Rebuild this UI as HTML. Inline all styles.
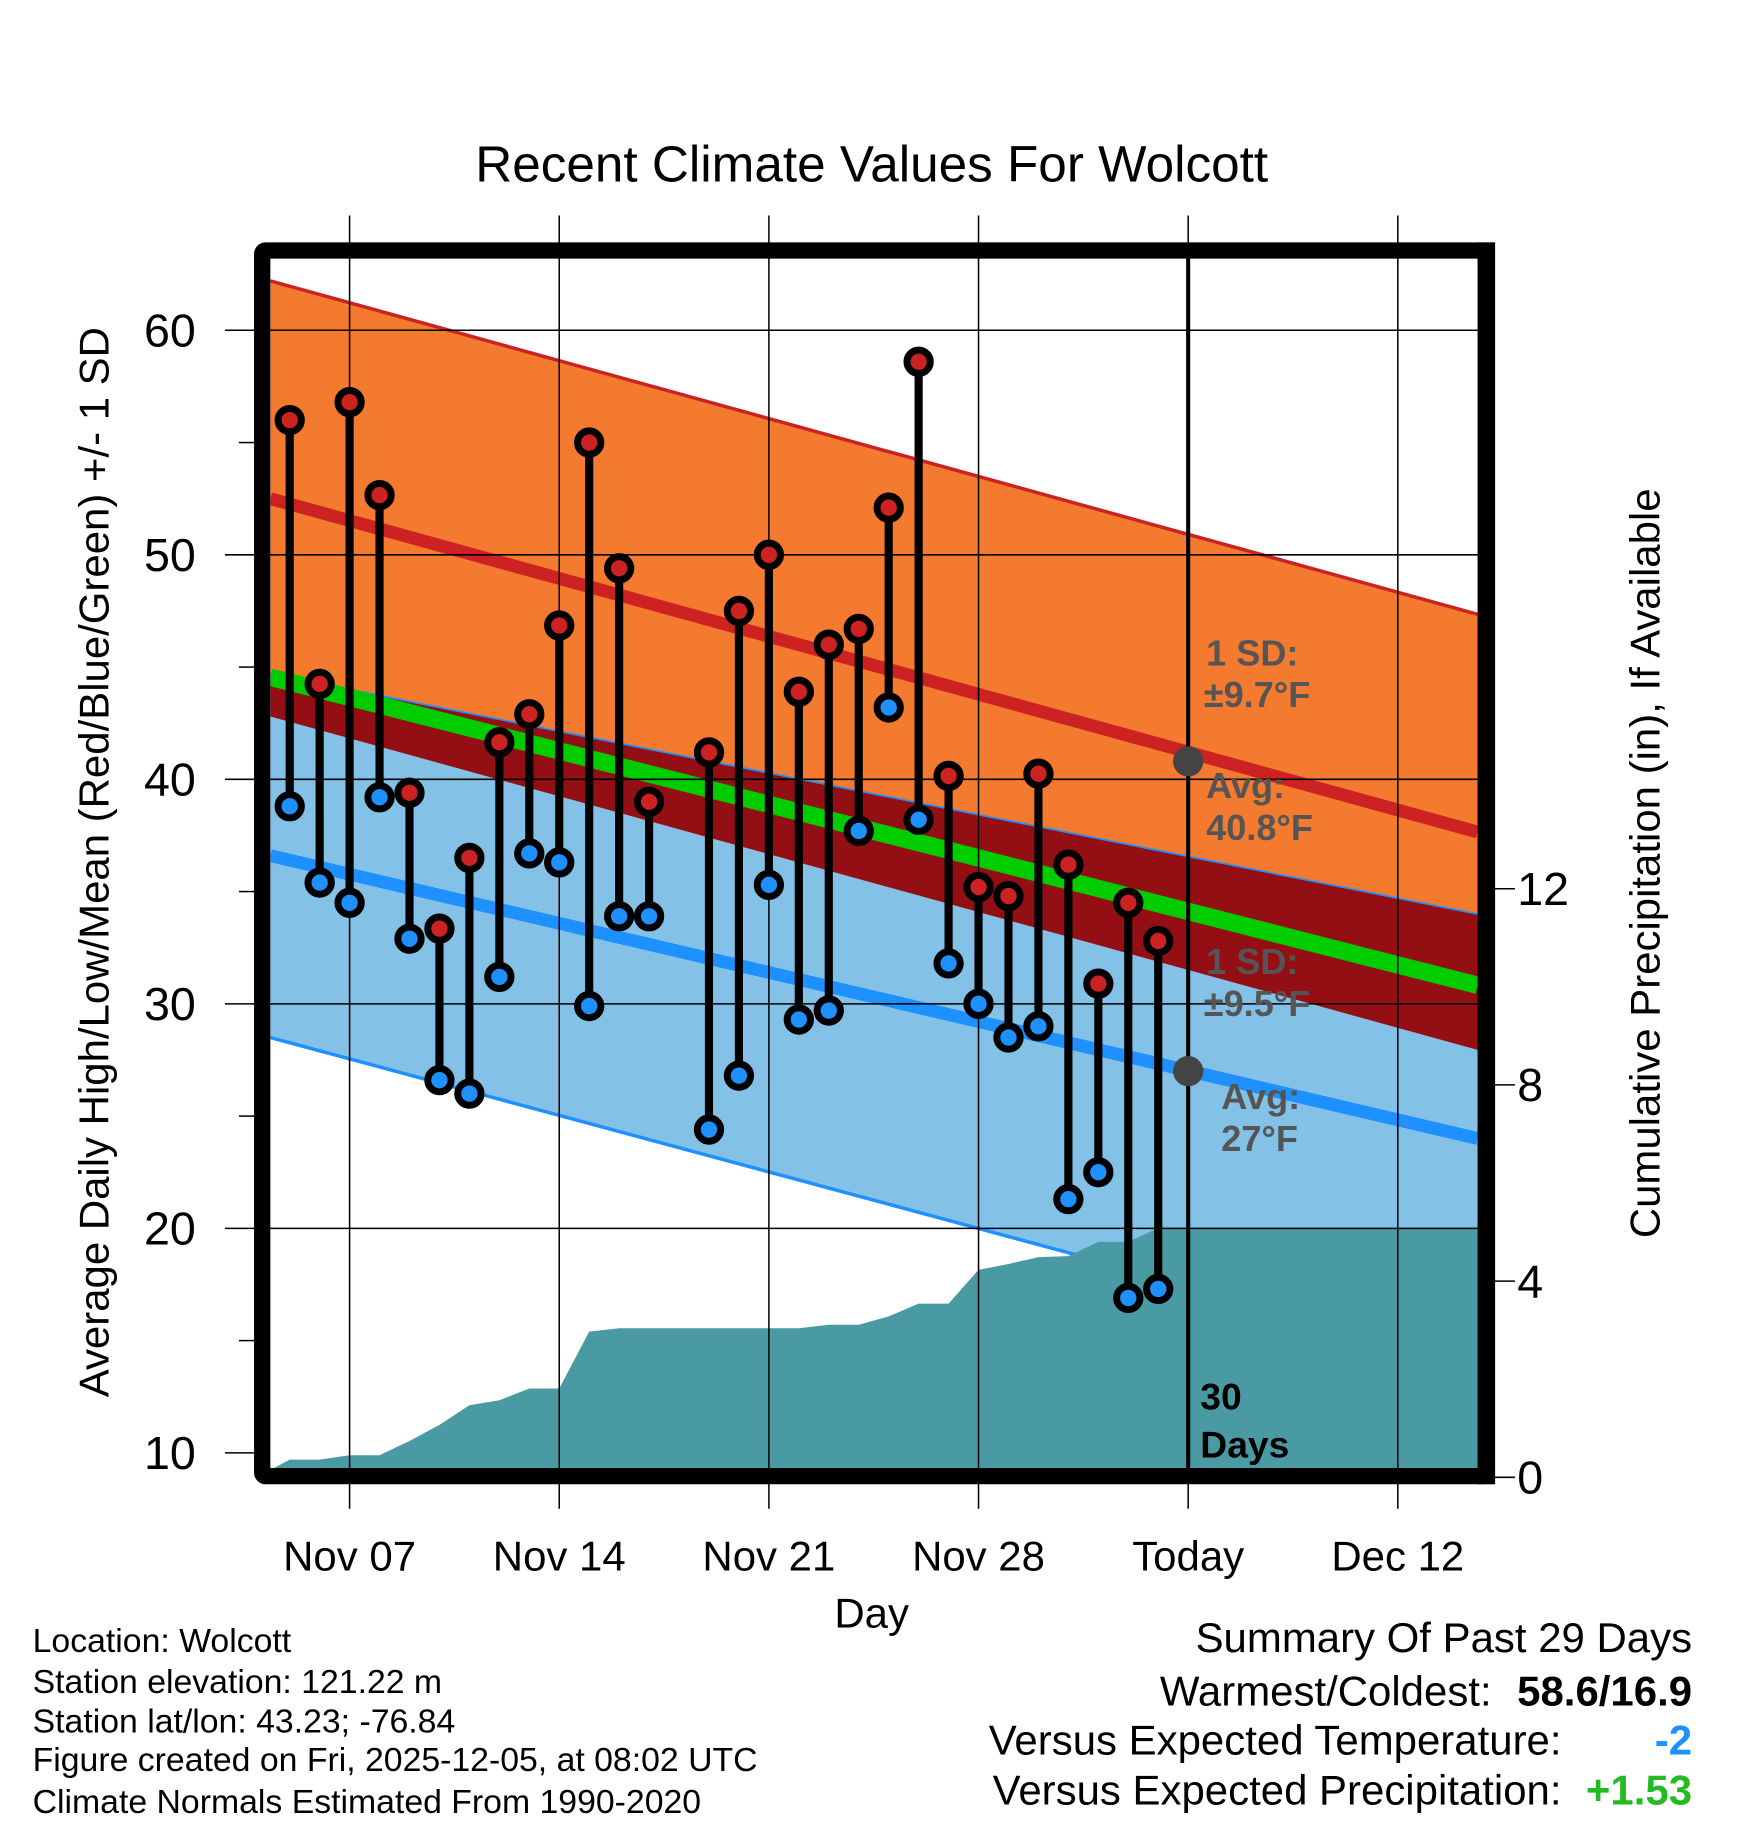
<!DOCTYPE html>
<html><head><meta charset="utf-8"><style>
html,body{margin:0;padding:0;background:#fff;}
svg{display:block;font-family:"Liberation Sans",Arial,sans-serif;}
</style></head><body>
<svg id="chart" width="1748" height="1828" viewBox="0 0 1500 1569" preserveAspectRatio="none" xmlns="http://www.w3.org/2000/svg">
<rect width="1500" height="1569" fill="#fff"/>
<text x="748" y="156" font-size="44" text-anchor="middle">Recent Climate Values For Wolcott</text>
<g id="plot"></g>
</svg>
<script>
const dayLabels = ["Nov 05","Nov 06","Nov 07","Nov 08","Nov 09","Nov 10","Nov 11","Nov 12","Nov 13","Nov 14","Nov 15","Nov 16","Nov 17","Nov 19","Nov 20","Nov 21","Nov 22","Nov 23","Nov 24","Nov 25","Nov 26","Nov 27","Nov 28","Nov 29","Nov 30","Dec 01","Dec 02","Dec 03","Dec 04"];
const dayOffsets = [0,1,2,3,4,5,6,7,8,9,10,11,12,14,15,16,17,18,19,20,21,22,23,24,25,26,27,28,29];
const highs = [56.0,44.25,56.8,52.66,39.4,33.35,36.5,41.65,42.9,46.85,55.0,49.4,39.0,41.2,47.5,50.0,43.9,46.0,46.7,52.1,58.6,40.15,35.2,34.8,40.25,36.2,30.9,34.5,32.8];
const lows  = [38.8,35.4,34.5,39.2,32.9,26.6,26.0,31.2,36.7,36.3,29.9,33.9,33.9,24.4,26.8,35.3,29.3,29.7,37.7,43.2,38.2,31.8,30.0,28.5,29.0,21.3,22.5,16.9,17.3];
const precipOffsets = [0,1,2,3,4,5,6,7,8,9,10,11,12,13,14,15,16,17,18,19,20,21,22,23,24,25,26,27,28,29];
const precipValues = [0.36,0.36,0.45,0.45,0.74,1.07,1.47,1.57,1.81,1.81,2.97,3.04,3.04,3.04,3.04,3.04,3.04,3.04,3.11,3.11,3.28,3.54,3.54,4.23,4.35,4.49,4.51,4.8,4.8,5.08];
const normHighStart = 52.5, normHighEnd = 37.65;
const normLowStart = 36.6, normLowEnd = 24.0;
const todayHighAvg = 40.8, todayLowAvg = 27.0;
const sdHigh = 9.7, sdLow = 8.1, sdLowEnd = 10.0;
const xTickLabels = ["Nov 07","Nov 14","Nov 21","Nov 28","Today","Dec 12"];
const xTickOffsets = [2,9,16,23,30,37];
const yTicks = [10,20,30,40,50,60];
const y2Ticks = [0,4,8,12];

const NS="http://www.w3.org/2000/svg";
const g=document.getElementById('plot');
const L=232,R=1268,T=222,B=1260;
const xDay=d=>248.6+d*25.7;
const y=v=>1247-(v-10)*19.27;
const y2=v=>1268-v*42.1;
const dL=(L-248.6)/25.7, dR=(R-248.6)/25.7;
function el(t,a,p){const e=document.createElementNS(NS,t);for(const k in a)e.setAttribute(k,a[k]);(p||g).appendChild(e);return e;}
function lerp(a,b,d){return a+(b-a)*(d-dL)/(dR-dL);}
const hm=d=>lerp(normHighStart,normHighEnd,d), lm=d=>lerp(normLowStart,normLowEnd,d);
const ls=d=>lerp(sdLow,sdLowEnd,d);

const defs=el('defs',{});const cp=el('clipPath',{id:'pc'},defs);el('rect',{x:L,y:T,width:R-L,height:B-T},cp);
const pg=el('g',{'clip-path':'url(#pc)'});
function band(f1,f2,fill,name){const pts=[];for(const d of [dL,dR])pts.push(xDay(d)+','+y(f1(d)));for(const d of [dR,dL])pts.push(xDay(d)+','+y(f2(d)));const p=el('polygon',{points:pts.join(' '),fill:fill},pg);}
band(d=>hm(d)+sdHigh,d=>hm(d)-sdHigh,'#f47a2f','high-sd-band');
band(d=>lm(d)+ls(d),d=>lm(d)-ls(d),'#84c1e6','low-sd-band');
band(d=>lm(d)+ls(d),d=>hm(d)-sdHigh,'#930f14','overlap-band');
function line(f,c,w,name){const l=el('line',{x1:L,y1:y(f(dL)),x2:R,y2:y(f(dR)),stroke:c,'stroke-width':w},pg);}
line(d=>hm(d)+sdHigh,'#cc2222',3,'high-upper-sd-line');
line(d=>lm(d)+ls(d),'#1e90ff',1.5,'low-upper-sd-line');
line(d=>lm(d)-ls(d),'#1e90ff',3,'low-lower-sd-line');
line(hm,'#cc2222',11,'normal-high-line');
line(lm,'#1e90ff',11,'normal-low-line');
line(d=>(hm(d)+lm(d))/2,'#00cc00',15,'normal-mean-line');
{const pts=[L+','+B, L+','+y2(0.15)];precipOffsets.forEach((d,i)=>pts.push(xDay(d)+','+y2(precipValues[i])));pts.push(R+','+y2(precipValues[precipValues.length-1]));pts.push(R+','+B);
const p=el('polygon',{points:pts.join(' '),fill:'#4a9aa3'},pg);}
yTicks.forEach(v=>{if(v>10){const l=el('line',{x1:193,x2:1282,y1:y(v),y2:y(v),stroke:'#000','stroke-width':1.3});}else{el('line',{x1:193,x2:218,y1:y(v),y2:y(v),stroke:'#000','stroke-width':1.3});}
const t=el('text',{x:168,y:y(v)+14,'font-size':40,'text-anchor':'end'});t.textContent=v;});
[15,25,35,45,55].forEach(v=>el('line',{x1:205,x2:218,y1:y(v),y2:y(v),stroke:'#000','stroke-width':1.3}));
xTickOffsets.forEach((d,i)=>{const l=el('line',{x1:xDay(d),x2:xDay(d),y1:185,y2:1295,stroke:'#000','stroke-width':1.3});
const t=el('text',{x:xDay(d),y:1348,'font-size':36,'text-anchor':'middle'});t.textContent=xTickLabels[i];});
y2Ticks.forEach(v=>{el('line',{x1:1282,x2:1300,y1:y2(v),y2:y2(v),stroke:'#000','stroke-width':1.3});const t=el('text',{x:1302,y:y2(v)+14,'font-size':40});t.textContent=v;});
{const l=el('line',{x1:xDay(30),x2:xDay(30),y1:T,y2:B,stroke:'#000','stroke-width':3.5});}
el('circle',{cx:xDay(30),cy:y(todayHighAvg),r:13,fill:'#444'});
el('circle',{cx:xDay(30),cy:y(todayLowAvg),r:13,fill:'#444'});
dayOffsets.forEach((d,i)=>{const x=xDay(d);const s=el('line',{x1:x,x2:x,y1:y(highs[i]),y2:y(lows[i]),stroke:'#000','stroke-width':7});
const h=el('circle',{cx:x,cy:y(highs[i]),r:10,fill:'#cc2222',stroke:'#000','stroke-width':6});
const lo=el('circle',{cx:x,cy:y(lows[i]),r:10,fill:'#1e90ff',stroke:'#000','stroke-width':6});});
function txt(x,yy,s,size,fill,w,anchor,name){const t=el('text',{x:x,y:yy,'font-size':size,fill:fill,'font-weight':w||'normal','text-anchor':anchor||'start'});t.textContent=s;return t;}
txt(1035,571,'1 SD:',31,'#555','bold','start','high-sd-label');
txt(1033,607,'±9.7°F',31,'#555','bold','start','high-sd-value');
txt(1035,685,'Avg:',31,'#555','bold','start','high-avg-label');
txt(1035,721,'40.8°F',31,'#555','bold','start','high-avg-value');
txt(1035,836,'1 SD:',31,'#555','bold','start','low-sd-label');
txt(1033,872,'±9.5°F',31,'#555','bold','start','low-sd-value');
txt(1048,952,'Avg:',31,'#555','bold','start','low-avg-label');
txt(1048,988,'27°F',31,'#555','bold','start','low-avg-value');
txt(1030,1210,'30',32,'#000','bold','start','days-label');
txt(1030,1251,'Days',32,'#000','bold','start','days-label-2');
{const f=el('rect',{x:225,y:215,width:1050,height:1052,fill:'none',stroke:'#000','stroke-width':14,rx:3});}
el('rect',{x:1268,y:208,width:15,height:1066,fill:'#000'});
{const t=txt(0,0,'Average Daily High/Low/Mean (Red/Blue/Green) +/- 1 SD',36,'#000','normal','middle','y-axis-title');t.setAttribute('transform','translate(93,740) rotate(-90)');}
{const t=txt(0,0,'Cumulative Precipitation (in), If Available',36,'#000','normal','middle','y2-axis-title');t.setAttribute('transform','translate(1424,741) rotate(-90)');}
txt(748,1397,'Day',36,'#000','normal','middle','x-axis-title');
['Location: Wolcott','Station elevation: 121.22 m','Station lat/lon: 43.23; -76.84','Figure created on Fri, 2025-12-05, at 08:02 UTC','Climate Normals Estimated From 1990-2020'].forEach((s,i)=>txt(28,[1418,1453,1487,1520,1556][i],s,29,'#000','normal','start','footer-info'));
txt(1452,1418,'Summary Of Past 29 Days',36,'#000','normal','end','summary-title');
txt(1280,1464,'Warmest/Coldest:',36,'#000','normal','end','warmest-coldest-label');
txt(1452,1464,'58.6/16.9',36,'#000','bold','end','warmest-coldest-value');
txt(1340,1506,'Versus Expected Temperature:',36,'#000','normal','end','temp-departure-label');
txt(1452,1506,'-2',36,'#1e90ff','bold','end','temp-departure-value');
txt(1340,1549,'Versus Expected Precipitation:',36,'#000','normal','end','precip-departure-label');
txt(1452,1549,'+1.53',36,'#22bb22','bold','end','precip-departure-value');
</script>
</body></html>
